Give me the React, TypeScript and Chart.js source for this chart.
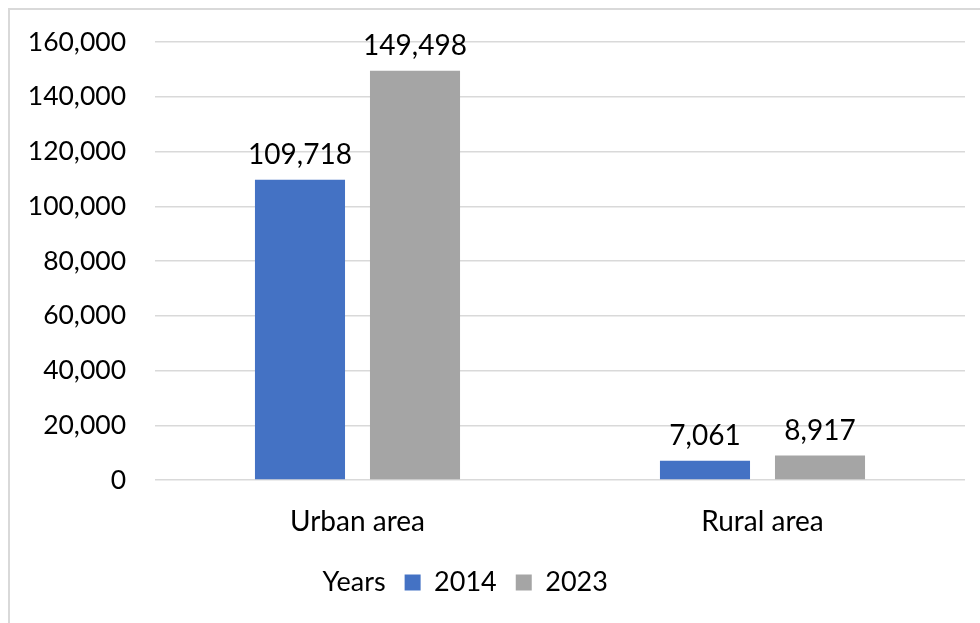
import React, { useEffect, useRef } from "react";
import { Chart, registerables } from "chart.js";

Chart.register(...registerables);

const categories = ["Urban area", "Rural area"];
const seriesLabels = ["2014", "2023"];
const values2014 = [109718, 7061];
const values2023 = [149498, 8917];
const yTicks = [0, 20000, 40000, 60000, 80000, 100000, 120000, 140000, 160000];
const legendTitle = "Years";
const seriesColors = ["#4472C4", "#A5A5A5"];

const FONT = "Lato";
const fmt = (v: number) => v.toLocaleString("en-US");

const valueLabels = {
  id: "valueLabels",
  afterDatasetsDraw(chart: any) {
    const ctx = chart.ctx;
    ctx.save();
    ctx.font = `28px ${FONT}`;
    ctx.fillStyle = "#000";
    ctx.textAlign = "center";
    ctx.textBaseline = "alphabetic";
    chart.data.datasets.forEach((ds: any, i: number) => {
      chart.getDatasetMeta(i).data.forEach((bar: any, j: number) => {
        ctx.fillText(fmt(ds.data[j]), bar.x, bar.y - 16);
      });
    });
    ctx.restore();
  },
};

export default function App() {
  const ref = useRef<HTMLCanvasElement>(null);

  useEffect(() => {
    if (!ref.current) return;
    const chart = new Chart(ref.current, {
      type: "bar",
      data: {
        labels: categories,
        datasets: [
          {
            label: seriesLabels[0],
            data: values2014,
            backgroundColor: seriesColors[0],
            categoryPercentage: 0.568,
            barPercentage: 0.783,
          },
          {
            label: seriesLabels[1],
            data: values2023,
            backgroundColor: seriesColors[1],
            categoryPercentage: 0.568,
            barPercentage: 0.783,
          },
        ],
      },
      options: {
        animation: false,
        responsive: true,
        maintainAspectRatio: false,
        layout: { padding: { left: -74, right: 15, top: 32, bottom: 17 } },
        plugins: {
          tooltip: { enabled: false },
          legend: {
            position: "bottom",
            onClick: () => {},
            labels: {
              color: "#000",
              font: { family: FONT, size: 27 },
              boxWidth: 16,
              boxHeight: 16,
              padding: 19,
              generateLabels: (c: any) => {
                const items: any[] = [
                  {
                    text: legendTitle,
                    fillStyle: "rgba(0,0,0,0)",
                    strokeStyle: "rgba(0,0,0,0)",
                    lineWidth: 0,
                    hidden: false,
                    fontColor: "#000",
                  },
                ];
                c.data.datasets.forEach((ds: any, i: number) => {
                  items.push({
                    text: ds.label,
                    fillStyle: ds.backgroundColor,
                    strokeStyle: ds.backgroundColor,
                    lineWidth: 0,
                    hidden: false,
                    datasetIndex: i,
                    fontColor: "#000",
                  });
                });
                return items;
              },
            },
          },
        },
        scales: {
          x: {
            grid: { display: false, drawTicks: false },
            border: { display: false },
            ticks: {
              color: "#000",
              font: { family: FONT, size: 28 },
              padding: 25,
            },
            afterFit: (s: any) => {
              s.height = 70;
            },
          },
          y: {
            min: yTicks[0],
            max: yTicks[yTicks.length - 1],
            grid: {
              color: "#d9d9d9",
              lineWidth: 1.5,
              drawTicks: true,
              tickLength: 29,
              tickColor: "rgba(0,0,0,0)",
            },
            border: { display: false },
            ticks: {
              color: "#000",
              font: { family: FONT, size: 26.5 },
              padding: 0,
              callback: (v: any) => fmt(Number(v)),
            },
            afterBuildTicks: (s: any) => {
              s.ticks = yTicks.map((v) => ({ value: v }));
            },
            afterFit: (s: any) => {
              s.width = 219;
            },
          },
        },
      },
      plugins: [valueLabels],
    });
    return () => chart.destroy();
  }, []);

  return (
    <div
      style={{
        position: "fixed",
        left: 8,
        top: 8,
        width: 972,
        height: 615,
        boxSizing: "border-box",
        borderLeft: "2px solid #d9d9d9",
        borderTop: "2px solid #d9d9d9",
        background: "#fff",
        overflow: "hidden",
      }}
    >
      <div style={{ position: "relative", width: 970, height: 613 }}>
        <canvas ref={ref} />
      </div>
    </div>
  );
}
